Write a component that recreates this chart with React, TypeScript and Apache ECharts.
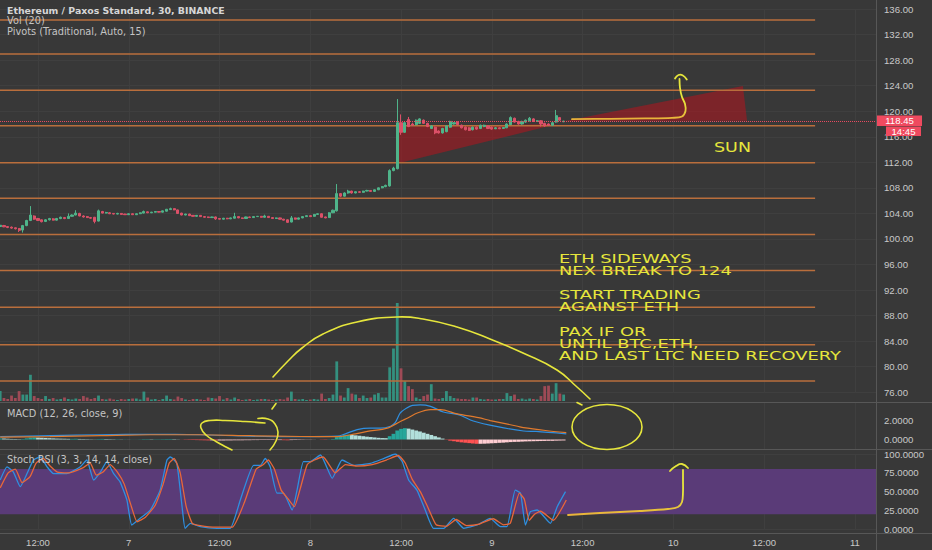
import React, { useEffect, useRef } from 'react';
import * as echarts from 'echarts';

// x unit = index of the 30-minute bar (0 = day 6, 07:00)
// [open, close, low, high]
const candles: number[][] = [
  [101.95, 102.15, 101.85, 102.3], [102.1, 101.9, 101.85, 102.2], [101.95, 101.8, 101.7, 102.0], [101.85, 101.7, 101.6, 101.95], [101.75, 101.6, 101.5, 101.8],
  [101.65, 101.35, 101.1, 101.7], [101.4, 102.1, 101.0, 102.2], [102.1, 102.9, 102.0, 103.0], [102.9, 103.75, 102.8, 105.15], [103.6, 103.1, 103.0, 103.7],
  [103.2, 102.9, 102.8, 103.3], [103.0, 102.7, 102.6, 103.05], [102.75, 103.0, 102.65, 103.1], [103.0, 103.2, 102.9, 103.3], [103.15, 102.95, 102.9, 103.25],
  [102.95, 103.2, 102.9, 103.3], [103.2, 103.4, 103.1, 103.5], [103.35, 103.2, 103.1, 103.45], [103.2, 103.55, 103.15, 104.0], [103.55, 103.75, 103.5, 103.85],
  [103.75, 104.05, 103.7, 104.5], [104.0, 103.6, 103.55, 104.1], [103.6, 103.45, 103.35, 103.7], [103.5, 103.35, 103.3, 103.6], [103.35, 103.25, 103.15, 103.45],
  [103.4, 102.75, 102.45, 103.45], [102.8, 104.4, 102.75, 104.6], [104.3, 104.05, 104.0, 104.4], [104.05, 104.15, 104.0, 104.25], [104.1, 103.95, 103.9, 104.2],
  [104.0, 103.9, 103.85, 104.05], [103.9, 104.0, 103.85, 104.1], [104.0, 103.85, 103.8, 104.05], [103.9, 103.8, 103.75, 103.95], [103.8, 103.95, 103.75, 104.0],
  [103.95, 103.8, 103.75, 104.0], [103.8, 103.95, 103.75, 104.0], [103.95, 104.1, 103.9, 104.15], [104.05, 104.3, 104.0, 104.45], [104.25, 104.1, 104.05, 104.3],
  [104.1, 104.2, 104.05, 104.25], [104.2, 104.3, 104.15, 104.35], [104.3, 104.2, 104.15, 104.35], [104.2, 104.4, 104.15, 104.45], [104.35, 104.65, 104.3, 104.7],
  [104.6, 104.75, 104.55, 104.9], [104.75, 104.55, 104.5, 104.8], [104.55, 104.0, 103.95, 104.6], [104.05, 103.75, 103.7, 104.1], [103.75, 103.9, 103.7, 103.95],
  [103.9, 103.65, 103.6, 103.95], [103.7, 103.55, 103.5, 103.75], [103.55, 103.7, 103.5, 103.75], [103.7, 103.5, 103.45, 103.75], [103.5, 103.4, 103.35, 103.55],
  [103.45, 103.35, 103.3, 103.5], [103.35, 103.45, 103.3, 103.5], [103.45, 103.15, 103.0, 103.5], [103.2, 103.1, 103.05, 103.25], [103.1, 103.25, 103.05, 103.3],
  [103.25, 103.15, 103.1, 103.3], [103.15, 103.3, 103.1, 103.35], [103.25, 103.5, 103.2, 104.1], [103.5, 103.3, 103.25, 103.55], [103.3, 103.2, 103.15, 103.35],
  [103.2, 103.45, 103.15, 103.5], [103.45, 103.35, 103.3, 103.5], [103.35, 103.5, 103.3, 103.55], [103.5, 103.55, 103.45, 103.6], [103.55, 103.4, 103.35, 103.6],
  [103.4, 103.6, 103.35, 103.8], [103.55, 103.35, 103.3, 103.6], [103.35, 103.2, 103.15, 103.4], [103.2, 103.3, 103.15, 103.35], [103.3, 103.1, 103.05, 103.35],
  [103.1, 102.95, 102.9, 103.15], [103.0, 102.6, 102.5, 103.05], [102.65, 103.3, 102.6, 103.6], [103.3, 103.1, 103.05, 103.35], [103.1, 103.3, 103.05, 103.35],
  [103.3, 103.5, 103.25, 103.55], [103.5, 103.65, 103.45, 103.7], [103.65, 103.5, 103.45, 103.7], [103.55, 103.85, 103.5, 103.9], [103.85, 103.95, 103.8, 104.0],
  [103.95, 103.4, 103.35, 104.0], [103.45, 103.3, 103.25, 103.5], [103.35, 104.1, 103.3, 104.2], [104.1, 104.5, 104.05, 104.6], [104.4, 107.1, 104.3, 108.6],
  [107.1, 106.7, 106.55, 107.2], [106.7, 107.2, 106.65, 107.3], [107.2, 107.5, 107.1, 107.7], [107.5, 107.2, 107.1, 107.55], [107.2, 107.4, 107.15, 107.45],
  [107.4, 107.3, 107.25, 107.5], [107.3, 107.5, 107.25, 107.55], [107.5, 107.6, 107.45, 107.7], [107.6, 107.45, 107.4, 107.65], [107.45, 107.7, 107.4, 107.75],
  [107.7, 108.0, 107.65, 108.05], [108.0, 108.2, 107.95, 108.3], [108.2, 108.4, 108.1, 108.5], [108.3, 110.7, 108.2, 110.9], [110.7, 111.1, 110.6, 111.3],
  [111.0, 118.2, 110.9, 121.9], [118.2, 116.7, 116.3, 119.5], [116.7, 118.2, 116.6, 118.4], [118.7, 117.6, 117.5, 119.1], [118.0, 117.8, 117.7, 118.2],
  [117.9, 118.6, 117.8, 118.7], [118.1, 118.8, 118.0, 118.9], [118.6, 118.1, 118.0, 118.7], [118.1, 117.6, 117.5, 118.2], [117.3, 117.7, 117.2, 117.8],
  [117.5, 116.6, 116.4, 117.6], [116.9, 116.6, 116.5, 117.0], [116.6, 117.3, 116.5, 117.4], [116.8, 117.7, 116.7, 117.8], [117.5, 118.4, 117.4, 118.5],
  [118.0, 118.2, 117.9, 118.3], [118.3, 117.9, 117.8, 118.4], [117.8, 117.4, 117.3, 117.9], [117.5, 117.1, 117.0, 117.6], [117.4, 117.0, 116.9, 117.5],
  [117.1, 117.5, 117.0, 117.6], [117.5, 117.2, 117.1, 117.6], [117.3, 117.8, 117.2, 117.9], [117.6, 117.8, 117.5, 117.9], [117.7, 117.3, 117.2, 117.8],
  [117.5, 117.2, 117.1, 117.6], [117.25, 117.4, 117.2, 117.5], [117.4, 117.25, 117.2, 117.45], [117.3, 117.45, 117.25, 117.5], [117.4, 118.0, 117.35, 118.1],
  [117.9, 119.0, 117.85, 119.2], [118.9, 118.3, 118.2, 119.0], [118.4, 118.0, 117.9, 118.5], [118.0, 118.4, 117.9, 118.5], [118.3, 118.6, 118.2, 118.7],
  [118.5, 118.9, 118.4, 119.1], [118.8, 118.4, 118.3, 118.9], [118.4, 118.5, 118.35, 118.6], [118.5, 118.0, 117.6, 118.6], [118.1, 117.7, 117.6, 118.2],
  [118.0, 117.8, 117.7, 118.1], [117.8, 118.2, 117.75, 118.3], [118.3, 119.3, 118.2, 120.2], [119.0, 118.6, 118.5, 119.1], [118.35, 118.45, 118.3, 118.5],
];

const volumes: number[] = [
  10, 3, 2, 5.5, 3, 10, 6.5, 6.5, 26.5, 5,
  3, 2, 5, 2, 3, 1.5, 2, 3.5, 2, 1.5,
  2.5, 2, 5, 3.5, 2, 3, 5.5, 2, 1.5, 2.5,
  1.5, 1, 2, 1.5, 2, 2.5, 2.5, 1.5, 9.5, 3.5,
  1.5, 2, 1, 2, 5.5, 2, 1.5, 4.5, 3, 1.5,
  1, 2, 2, 1.5, 1, 3.5, 3, 2.5, 5, 1.5,
  3, 1.5, 3.5, 2, 1, 1.5, 2, 1, 1.5, 2,
  2, 1.5, 1, 1.5, 2, 1.5, 3.5, 9.5, 2, 1.5,
  2, 1, 1.5, 2, 1.5, 7.5, 2, 3, 6.5, 40,
  5.5, 3.5, 13, 7.5, 6.5, 3, 5.5, 3, 3.5, 6.5,
  8, 3.5, 3.5, 34, 53, 99, 33, 20, 15, 12,
  3.5, 2, 5, 6.5, 17, 2.5, 2, 3, 10, 5,
  3, 2.5, 2, 2, 1.5, 3.5, 3.5, 2, 1.5, 2,
  1.5, 1.5, 2, 2, 8, 5, 6.5, 2, 2.5, 1.5,
  2.5, 2, 1.5, 5, 15, 15.5, 7.5, 18, 7.5, 6.5,
];

const macdHist: number[] = [
  0.12, 0.1, 0.08, 0.06, 0.05, 0.04, 0.06, 0.12, 0.2, 0.22,
  0.2, 0.18, 0.16, 0.14, 0.12, 0.1, 0.09, 0.08, 0.07, 0.07,
  0.08, 0.06, 0.05, 0.04, 0.03, 0.02, 0.05, 0.06, 0.05, 0.04,
  0.03, 0.03, 0.02, 0.02, 0.01, 0.01, 0.01, 0.02, 0.04, 0.04,
  0.03, 0.03, 0.03, 0.04, 0.05, 0.05, 0.04, 0.02, -0.01, -0.03,
  -0.04, -0.05, -0.06, -0.07, -0.08, -0.09, -0.09, -0.1, -0.1, -0.1,
  -0.09, -0.09, -0.08, -0.08, -0.08, -0.07, -0.07, -0.06, -0.06, -0.05,
  -0.05, -0.05, -0.05, -0.06, -0.06, -0.07, -0.08, -0.06, -0.05, -0.04,
  -0.03, -0.02, -0.02, -0.01, 0.0, -0.02, -0.03, 0.02, 0.06, 0.25,
  0.38, 0.46, 0.5, 0.48, 0.44, 0.4, 0.35, 0.3, 0.26, 0.22,
  0.18, 0.15, 0.14, 0.35, 0.6, 0.95, 1.12, 1.2, 1.15, 1.05,
  0.95, 0.85, 0.72, 0.6, 0.48, 0.35, 0.22, 0.1, -0.03, -0.12,
  -0.18, -0.24, -0.3, -0.34, -0.38, -0.42, -0.45, -0.45, -0.44, -0.42,
  -0.4, -0.38, -0.35, -0.33, -0.3, -0.27, -0.25, -0.24, -0.22, -0.2,
  -0.19, -0.18, -0.17, -0.16, -0.15, -0.14, -0.14, -0.12, -0.11, -0.1,
];

// [bar index, value]
const macdLine: number[][] = [
  [0, 0.3], [13.2, 0.4], [26.5, 0.5], [39.7, 0.55], [52.9, 0.5], [66.1, 0.35], [79.4, 0.3], [89.2, 0.35],
  [91.3, 0.6], [94.4, 1.05], [97.9, 1.2], [100.5, 1.2], [103.2, 1.4], [104.5, 1.8], [105.8, 2.8], [107.4, 3.3],
  [109, 3.6], [111.1, 3.65], [113.8, 3.5], [117.2, 2.9], [121.4, 2.6], [125.1, 1.95], [131.5, 1.35], [138.4, 0.9],
  [141.7, 0.85], [149.7, 0.6],
];
const signalLine: number[][] = [
  [0, 0.25], [13.2, 0.3], [26.5, 0.4], [39.7, 0.5], [52.9, 0.5], [66.1, 0.4], [79.4, 0.32], [89.2, 0.3],
  [94, 0.6], [97.1, 0.85], [102.4, 1.2], [105.8, 1.9], [107.9, 2.3], [110.3, 2.8], [113.8, 3.15], [116.4, 3.15],
  [120.9, 2.7], [126.5, 2.3], [129.6, 2.0], [136.8, 1.4], [138.4, 1.25], [144.2, 0.95], [149.7, 0.72],
];
const stochK: number[][] = [
  [0, 65.5], [1.8, 83], [3.5, 76], [5.3, 56.6], [7.1, 74], [8.8, 92], [10.6, 96], [12.4, 83], [14.1, 74], [17.6, 74],
  [21.2, 83], [22.9, 92], [24.7, 65.5], [26.5, 76], [28.2, 90], [30, 74], [31.7, 63], [33.5, 39], [34.8, 5.7], [37, 14.6],
  [39.7, 25.6], [42.3, 52], [44.1, 92], [45, 96], [46.7, 87.6], [48.1, 30], [48.9, 1.3], [50.3, 8], [52.9, 3.5], [57.3, 1.3],
  [60.8, 1.3], [63.5, 39], [67, 85], [68.8, 85], [70.1, 94], [71.4, 83], [73.2, 48], [74.9, 48], [77.2, 25.6], [78.5, 52],
  [80.2, 90], [82, 90], [84.7, 98.7], [87.8, 67.7], [90.4, 92], [93.5, 85], [97.9, 87.6], [101.4, 94], [104.5, 100], [106.3, 90],
  [108, 65.5], [110.2, 52], [112.4, 25.6], [114.6, 1.3], [117.3, 1.3], [119.9, 14.6], [122.6, 1.3], [126.1, 5.7], [129.6, 14.6], [132.3, 3.5],
  [134, 3.5], [136.2, 52], [137.6, 48], [138.9, 5.7], [140.2, 23.4], [142, 25.6], [145.5, 8], [147.3, 30], [149.5, 50],
];
const stochD: number[][] = [
  [0, 55], [2.1, 75], [4, 80], [5.8, 62], [7.9, 70], [9.5, 88], [11.4, 94], [13.2, 84], [15.1, 76], [18, 75],
  [22, 82], [23.8, 88], [25.4, 72], [27.2, 76], [29.1, 86], [31, 76], [32.8, 60], [34.7, 30], [36.2, 10], [38.4, 16],
  [41, 32], [43.1, 60], [44.7, 88], [46, 94], [47.6, 75], [49.2, 30], [50.8, 8], [52.9, 5], [57.1, 3], [61.4, 3],
  [64.6, 36], [67.7, 80], [69.6, 86], [70.9, 92], [72.5, 80], [74.3, 52], [76.2, 40], [77.8, 30], [79.4, 55], [81.2, 86],
  [83.1, 92], [85.4, 96], [88.6, 75], [91.3, 86], [94.2, 84], [98.4, 86], [102.1, 92], [105.3, 98], [107.1, 88], [109, 66],
  [111.1, 50], [113.2, 28], [115.3, 6], [118, 4], [120.6, 13], [123.3, 5], [126.7, 7], [130.4, 14], [133.1, 6], [134.9, 8],
  [137.3, 48], [138.6, 40], [139.9, 12], [141.3, 20], [142.9, 24], [146.3, 12], [149.7, 39],
];

const pivotLevels: number[] = [134.28, 128.95, 123.27, 117.73, 111.93, 106.37, 100.69, 95.08, 89.33, 83.46, 77.75];
const pivotEnd = 215.5;
const lastPrice = 118.45;
const countdown = '14:45';
const xTickIndex: number[] = [10, 34, 58, 82, 106, 130, 154, 178, 202, 226];
const xTickLabels: string[] = ['12:00', '7', '12:00', '8', '12:00', '9', '12:00', '10', '12:00', '11'];
// drawn wedges, in [bar index, price]
const wedges: number[][][] = [
  [[105, 117.6], [105, 111.8], [147.3, 118.0]],
  [[149.4, 118.45], [196.4, 123.94], [197.5, 118.5]],
];
const noteLines: string[] = ['ETH SIDEWAYS', 'NEX BREAK TO 124', 'START TRADING', 'AGAINST ETH', 'PAX IF OR', 'UNTIL BTC,ETH,', 'AND LAST LTC NEED RECOVERY'];

const X_MIN = -0.05;
const X_MAX = 231.6;

function buildOption(): any {
  const BG = '#383838';
  const GRID = '#3f3f3f';
  const UP = '#4fb48a';
  const DOWN = '#dc5068';
  const VUP = '#34907f';
  const VDOWN = '#9f4a56';
  const AX = '#c9c9c9';
  const YEL = '#e6e63c';
  const ORY = '#e8b23a';

  const xAxisBase = (gridIndex: number, split: boolean) => ({
    type: 'value', gridIndex, min: X_MIN, max: X_MAX,
    axisLine: { show: false },
    axisTick: { show: false, customValues: xTickIndex },
    axisLabel: { show: false },
    splitLine: { show: split, lineStyle: { color: GRID, width: 1 } },
  });
  const yLabel = (fmt: (v: number) => string) => ({
    color: AX, fontFamily: 'Liberation Sans', fontSize: 9.6, margin: 8, formatter: fmt,
  });

  const histColor = (h: number, prev: number) =>
    h >= 0 ? (h >= prev ? '#26a69a' : '#b2dfdb') : (h < prev ? '#ff5252' : '#ffcdd2');

  const grad = () => new echarts.graphic.LinearGradient(0, 0, 0, 1, [
    { offset: 0, color: YEL }, { offset: 0.55, color: YEL }, { offset: 1, color: ORY },
  ]);

  const text = (x: number, y: number, t: string, size: number, fill: string, extra: any = {}, family = 'DejaVu Sans', weight = 'normal', align = 'left') => ({
    type: 'text', x, y, z: 100, silent: true, ...extra,
    style: {
      text: t, fill, fontSize: size, fontFamily: family, fontWeight: weight,
      textAlign: align, textVerticalAlign: 'middle', align, verticalAlign: 'middle',
    },
  });
  const hline = (y: number) => ({
    type: 'line', z: 90, silent: true, shape: { x1: 0, y1: y, x2: 932, y2: y }, style: { stroke: '#575757', lineWidth: 1 },
  });
  const stroke = (points: number[][], color: any, smooth = 0.4, width = 1.8) => ({
    type: 'polyline', z: 100, silent: true, shape: { points, smooth }, style: { stroke: color, lineWidth: width, fill: null, lineCap: 'round', lineJoin: 'round' },
  });

  const noteMids = [258.8, 270.8, 295.2, 307.2, 331.8, 343.8, 355.8];

  const graphic: any[] = [
    { type: 'line', z: 90, silent: true, shape: { x1: 876.5, y1: 0, x2: 876.5, y2: 550 }, style: { stroke: '#575757', lineWidth: 1 } },
    hline(402.5), hline(449.5), hline(533.5),
    text(7, 10, 'Ethereum / Paxos Standard, 30, BINANCE', 9.4, '#d6d6d6', {}, 'DejaVu Sans', 'bold'),
    text(7, 20.7, 'Vol (20)', 9.8, '#c4c4c4'),
    text(7, 31.7, 'Pivots (Traditional, Auto, 15)', 9.8, '#c4c4c4'),
    text(7, 413.3, 'MACD (12, 26, close, 9)', 9.8, '#c4c4c4'),
    text(7, 459.5, 'Stoch RSI (3, 3, 14, 14, close)', 9.8, '#c4c4c4'),
    { type: 'rect', z: 95, silent: true, shape: { x: 877, y: 115.5, width: 45, height: 10.5 }, style: { fill: '#ef4a5f' } },
    text(899.5, 120.9, lastPrice.toFixed(2), 9.6, '#ffffff', {}, 'Liberation Sans', 'normal', 'center'),
    { type: 'rect', z: 95, silent: true, shape: { x: 886, y: 126.5, width: 35, height: 9.5 }, style: { fill: '#ef4a5f' } },
    text(903.5, 131.4, countdown, 9.6, '#ffffff', {}, 'Liberation Sans', 'normal', 'center'),
    text(714, 147, 'SUN', 14, YEL, { scaleX: 1.25 }),
    ...noteLines.map((t, k) => text(559, noteMids[k], t, 12.5, YEL, { scaleX: 1.43 })),
    // hand-drawn arrow in price pane
    stroke([[572, 119.2], [610, 118.8], [645, 118.4], [672, 117.8], [682, 116.5], [685.5, 111], [685, 104], [682, 97], [680, 88], [679.5, 79]], grad(), 0.35),
    stroke([[675, 78.5], [678.5, 75], [682.5, 75.2], [686.8, 79.5]], YEL, 0.5),
    // big arc over volume
    stroke([[273, 377], [288, 361], [302, 348], [323, 334], [357, 322], [397, 317], [423, 319], [457, 327], [490, 339], [523, 353], [557, 370], [577, 387], [590, 399]], YEL, 0.5, 1.6),
    stroke([[276, 403.5], [272, 409]], YEL, 0, 1.6),
    stroke([[577, 402.5], [582, 405]], YEL, 0, 1.6),
    // loop in MACD pane
    stroke([[265, 423], [245, 421.5], [225, 420.5], [210, 420.5], [202, 423], [201, 428], [206, 435], [216, 441.5], [226, 447], [232, 450]], YEL, 0.5, 1.6),
    stroke([[258, 418.5], [268, 419], [275, 424], [278, 432], [276, 441], [270, 450]], YEL, 0.5, 1.6),
    { type: 'ellipse', z: 100, silent: true, shape: { cx: 607, cy: 427, rx: 35, ry: 22.5 }, style: { stroke: YEL, lineWidth: 1.6, fill: 'none' } },
    // arrow in stoch pane
    stroke([[568, 515], [600, 513], [640, 511], [668, 509], [678, 507], [682, 502], [683, 492], [683, 480], [683, 470]], grad(), 0.35),
    stroke([[670, 471], [676, 466], [682, 464], [688, 468]], YEL, 0.5),
  ];

  const series: any[] = [
    {
      type: 'custom', xAxisIndex: 0, yAxisIndex: 0, z: 1, silent: true, clip: false,
      data: wedges.map((w, k) => [w[0][0], w[0][1], k]),
      encode: { x: 0, y: 1 },
      renderItem: (_p: any, api: any) => {
        const k = api.value(2);
        const pts = wedges[k].map((p) => api.coord(p));
        return { type: 'polygon', shape: { points: pts }, style: { fill: 'rgba(180,20,30,0.55)' } };
      },
    },
    ...pivotLevels.map((p) => ({
      type: 'line', xAxisIndex: 0, yAxisIndex: 0, z: 2, silent: true, symbol: 'none',
      data: [[X_MIN, p], [pivotEnd, p]],
      lineStyle: { color: '#b96e3c', width: 1.5 },
    })),
    {
      type: 'candlestick', xAxisIndex: 0, yAxisIndex: 0, z: 3, barWidth: 2.6, silent: true,
      data: candles.map((c, i) => [i, c[0], c[1], c[2], c[3]]),
      itemStyle: { color: UP, color0: DOWN, borderColor: UP, borderColor0: DOWN, borderWidth: 1 },
      markLine: {
        symbol: 'none', silent: true, label: { show: false },
        lineStyle: { color: '#e84a5f', type: 'dotted', width: 1 },
        data: [{ yAxis: lastPrice }],
      },
    },
    {
      type: 'bar', xAxisIndex: 1, yAxisIndex: 1, z: 1, barWidth: 2.8, silent: true,
      data: volumes.map((v, i) => ({ value: [i, v], itemStyle: { color: candles[i][1] >= candles[i][0] ? VUP : VDOWN } })),
    },
    {
      type: 'bar', xAxisIndex: 2, yAxisIndex: 2, barWidth: 3.8, silent: true,
      data: macdHist.map((h, i) => ({ value: [i, h], itemStyle: { color: histColor(h, i > 0 ? macdHist[i - 1] : h) } })),
    },
    {
      type: 'line', xAxisIndex: 2, yAxisIndex: 2, data: macdLine, symbol: 'none', smooth: 0.3, silent: true, clip: false,
      lineStyle: { color: '#2f8fe0', width: 1.2 },
    },
    {
      type: 'line', xAxisIndex: 2, yAxisIndex: 2, data: signalLine, symbol: 'none', smooth: 0.3, silent: true, clip: false,
      lineStyle: { color: '#e07a2e', width: 1.2 },
    },
    {
      type: 'line', xAxisIndex: 3, yAxisIndex: 3, data: stochK, symbol: 'none', smooth: 0.15, silent: true, z: 3,
      lineStyle: { color: '#2f8fe0', width: 1.3 },
      markArea: { silent: true, itemStyle: { color: '#5a3b78' }, data: [[{ yAxis: 20 }, { yAxis: 80 }]] },
    },
    {
      type: 'line', xAxisIndex: 3, yAxisIndex: 3, data: stochD, symbol: 'none', smooth: 0.15, silent: true, z: 3,
      lineStyle: { color: '#e8673a', width: 1.3 },
    },
  ];

  return {
    animation: false,
    backgroundColor: BG,
    grid: [
      { left: 0, top: 9, width: 876, height: 383.3 },
      { left: 0, top: 0, width: 876, height: 401 },
      { left: 0, top: 403, width: 876, height: 46 },
      { left: 0, top: 454, width: 876, height: 75.3 },
    ],
    xAxis: [
      xAxisBase(0, true),
      xAxisBase(1, false),
      xAxisBase(2, true),
      {
        ...xAxisBase(3, true),
        axisLabel: {
          show: true, customValues: xTickIndex, color: AX, fontFamily: 'Liberation Sans', fontSize: 9.5, margin: 8,
          formatter: (v: number) => xTickLabels[xTickIndex.indexOf(Math.round(v))] ?? '',
        },
      },
    ],
    yAxis: [
      {
        type: 'value', gridIndex: 0, position: 'right', min: 76, max: 136, interval: 4,
        axisLine: { show: false }, axisTick: { show: false },
        axisLabel: yLabel((v) => v.toFixed(2)),
        splitLine: { lineStyle: { color: GRID } },
      },
      { type: 'value', gridIndex: 1, min: 0, max: 405, show: false },
      {
        type: 'value', gridIndex: 2, position: 'right', min: -1, max: 3.85, interval: 1,
        axisLine: { show: false }, axisTick: { show: false },
        axisLabel: yLabel((v) => (Math.abs(v) < 1e-9 || Math.abs(v - 2) < 1e-9 ? v.toFixed(4) : '')),
        splitLine: { show: false },
      },
      {
        type: 'value', gridIndex: 3, position: 'right', min: 0, max: 100, interval: 25,
        axisLine: { show: false }, axisTick: { show: false },
        axisLabel: yLabel((v) => v.toFixed(4)),
        splitLine: { lineStyle: { color: GRID } },
      },
    ],
    series,
    graphic,
  };
}

export default function App() {
  const ref = useRef<HTMLDivElement>(null);
  useEffect(() => {
    if (!ref.current) return;
    const chart = echarts.init(ref.current, null, { renderer: 'svg' });
    chart.setOption(buildOption());
    return () => chart.dispose();
  }, []);
  return <div ref={ref} style={{ position: 'fixed', left: 0, top: 0, width: 932, height: 550 }} />;
}
